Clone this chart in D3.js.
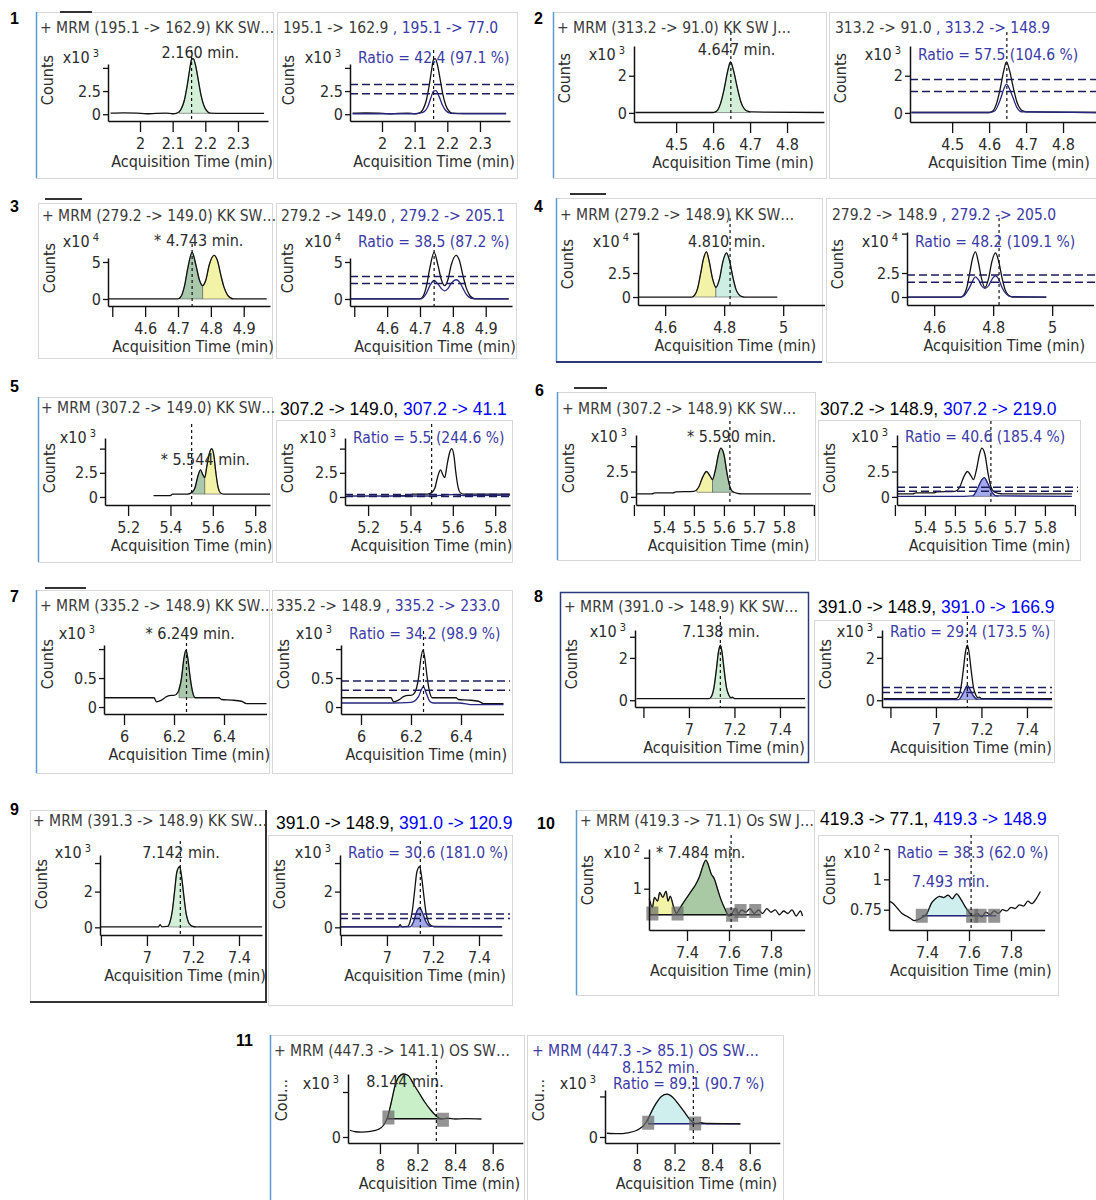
<!DOCTYPE html>
<html>
<head>
<meta charset="utf-8">
<script src="https://cdn.jsdelivr.net/npm/d3@7"></script>
<style>
body { margin: 0; background: #fff; }
text { white-space: pre; }
</style>
</head>
<body>
<svg id="fig" width="1096" height="1200"></svg>
<script>
// ---------- data ----------
var panelNames = ["1","2","3","4","5","6","7","8","9","10","11"];

var leftTitles = [
  "+ MRM (195.1 -> 162.9) KK SW\u2026",
  "+ MRM (313.2 -> 91.0) KK SW J\u2026",
  "+ MRM (279.2 -> 149.0) KK SW\u2026",
  "+ MRM (279.2 -> 148.9) KK SW\u2026",
  "+ MRM (307.2 -> 149.0) KK SW\u2026",
  "+ MRM (307.2 -> 148.9) KK SW\u2026",
  "+ MRM (335.2 -> 148.9) KK SW\u2026",
  "+ MRM (391.0 -> 148.9) KK SW\u2026",
  "+ MRM (391.3 -> 148.9) KK SW\u2026",
  "+ MRM (419.3 -> 71.1) Os SW J\u2026",
  "+ MRM (447.3 -> 141.1) OS SW\u2026"
];
var rightTitleBlack = ["195.1 -> 162.9", "313.2 -> 91.0", "279.2 -> 149.0", "279.2 -> 148.9",
  "307.2 -> 149.0,", "307.2 -> 148.9,", "335.2 -> 148.9", "391.0 -> 148.9,", "391.0 -> 148.9,",
  "419.3 -> 77.1,", ""];
var rightTitleBlue = [" , 195.1 -> 77.0", " , 313.2 -> 148.9", " , 279.2 -> 205.1", " , 279.2 -> 205.0",
  " 307.2 -> 41.1", " 307.2 -> 219.0", " , 335.2 -> 233.0", " 391.0 -> 166.9", " 391.0 -> 120.9",
  " 419.3 -> 148.9", "+ MRM (447.3 -> 85.1) OS SW\u2026"];

var rtLabels = ["2.160 min.", "4.647 min.", "* 4.743 min.", "4.810 min.", "* 5.544 min.", "* 5.590 min.",
  "* 6.249 min.", "7.138 min.", "7.142 min.", "* 7.484 min.", "8.144 min."];
var ratioLabels = ["Ratio = 42.4 (97.1 %)", "Ratio = 57.5 (104.6 %)", "Ratio = 38.5 (87.2 %)",
  "Ratio = 48.2 (109.1 %)", "Ratio = 5.5 (244.6 %)", "Ratio = 40.6 (185.4 %)", "Ratio = 34.2 (98.9 %)",
  "Ratio = 29.4 (173.5 %)", "Ratio = 30.6 (181.0 %)", "Ratio = 38.3 (62.0 %)", "Ratio = 89.1 (90.7 %)"];
var extraLabelsR = ["", "", "", "", "", "", "", "", "", "7.493 min.", "8.152 min."];
var exponents = [3, 3, 4, 4, 3, 3, 3, 3, 3, 2, 3];

var xDomains = [[1.902, 2.392], [4.386, 4.9], [4.487, 4.98], [4.508, 5.14], [5.091, 5.87],
  [5.307, 5.897], [5.92, 6.57], [6.763, 7.51], [6.796, 7.5], [7.219, 7.96], [7.83, 8.76]];
var xTicks = [[2, 2.1, 2.2, 2.3], [4.5, 4.6, 4.7, 4.8], [4.5, 4.6, 4.7, 4.8, 4.9], [4.6, 4.8, 5],
  [5.2, 5.4, 5.6, 5.8], [5.3, 5.4, 5.5, 5.6, 5.7, 5.8, 5.9], [6, 6.2, 6.4], [6.8, 7, 7.2, 7.4],
  [6.8, 7, 7.2, 7.4], [7.4, 7.6, 7.8], [8, 8.2, 8.4, 8.6]];
var xTickText = [["2", "2.1", "2.2", "2.3"], ["4.5", "4.6", "4.7", "4.8"], ["", "4.6", "4.7", "4.8", "4.9"],
  ["4.6", "4.8", "5"], ["5.2", "5.4", "5.6", "5.8"], ["", "5.4", "5.5", "5.6", "5.7", "5.8", ""],
  ["6", "6.2", "6.4"], ["", "7", "7.2", "7.4"], ["", "7", "7.2", "7.4"], ["7.4", "7.6", "7.8"],
  ["8", "8.2", "8.4", "8.6"]];

var yDomainsL = [[-0.73, 5.42], [-0.49, 3.6], [-0.95, 5.54], [-0.83, 6.77], [-0.83, 6.1], [-0.8, 6.1],
  [-0.12, 1.07], [-0.32, 3.32], [-0.43, 4.05], [0.667, 1.32], [-0.4, 4.2]];
var yDomainsR = [[-0.73, 5.42], [-0.49, 3.6], [-0.95, 5.54], [-0.83, 6.77], [-0.83, 6.1], [-0.8, 6.1],
  [-0.12, 1.07], [-0.32, 3.32], [-0.43, 4.05], [0.583, 1.25], [-0.4, 3.13]];
var yTicksL = [[0, 2.5, 5], [0, 2], [0, 5], [0, 2.5, 6.6], [0, 2.5, 5], [0, 2.5, 5], [0, 0.5, 1],
  [0, 2, 3], [0, 2, 3.6], [1, 1.25], [0, 3]];
var yTickTextL = [["0", "2.5", ""], ["0", "2"], ["0", "5"], ["0", "2.5", ""], ["0", "2.5", ""],
  ["0", "2.5", ""], ["0", "0.5", ""], ["0", "2", ""], ["0", "2", ""], ["1", ""], ["0", ""]];
var yTicksR = [[0, 2.5, 5], [0, 2], [0, 5], [0, 2.5, 6.6], [0, 2.5, 5], [0, 2.5, 5], [0, 0.5, 1],
  [0, 2, 3], [0, 2, 3.6], [0.75, 1, 1.25], [0, 2.7]];
var yTickTextR = [["0", "2.5", ""], ["0", "2"], ["0", "5"], ["0", "2.5", ""], ["0", "2.5", ""],
  ["0", "2.5", ""], ["0", "0.5", ""], ["0", "2", ""], ["0", "2", ""], ["0.75", "1", ""], ["0", ""]];

var dashTimes = [2.158, 4.648, 4.743, 4.82, 5.5, 5.62, 6.25, 7.138, 7.145, 7.61, 8.3];
var ratioBands = [[2.2, 3.2], [1.15, 1.8], [2.1, 3.05], [1.55, 2.3], [0.05, 0.25], [0.55, 0.95],
  [0.29, 0.45], [0.37, 0.6], [0.5, 0.75], null, null];

// quantifier traces (time, counts)
var quant1 = [[1.91,0.12],[1.95,0.15],[1.99,0.12],[2.02,0.05],[2.05,0.1],[2.08,0.12],[2.1,0.05],[2.115,0.15],
  [2.125,0.5],[2.135,1.4],[2.145,3.2],[2.152,4.8],[2.158,5.9],[2.163,6.0],[2.17,5.3],[2.178,3.8],[2.186,2.2],
  [2.195,1.0],[2.205,0.35],[2.215,0.12],[2.25,0.1],[2.3,0.1],[2.38,0.1]];
var quant2 = [[4.39,0.02],[4.5,0.02],[4.6,0.02],[4.61,0.1],[4.62,0.5],[4.63,1.3],[4.64,2.3],[4.647,2.75],
  [4.655,2.3],[4.665,1.4],[4.675,0.6],[4.685,0.2],[4.695,0.08],[4.705,0.05],[4.9,0.02]];
var quant3 = [[4.49,0],[4.6,0],[4.7,0],[4.71,0.4],[4.72,1.8],[4.73,4.2],[4.743,6.3],[4.755,4.5],[4.765,2.6],
  [4.775,1.8],[4.785,2.6],[4.795,4.6],[4.81,5.9],[4.82,5.2],[4.83,3.3],[4.84,1.6],[4.85,0.6],[4.86,0.15],
  [4.87,0],[4.97,0]];
var quant4 = [[4.51,0],[4.6,0],[4.69,0],[4.7,0.2],[4.71,0.9],[4.72,2.4],[4.73,4.0],[4.74,4.7],[4.75,3.6],
  [4.76,2.0],[4.772,1.0],[4.785,2.0],[4.795,3.6],[4.808,4.6],[4.818,3.8],[4.83,2.0],[4.84,0.8],[4.85,0.25],
  [4.86,0.05],[4.87,0],[4.98,0]];
var quant5 = [[5.32,0.15],[5.4,0.15],[5.41,0.3],[5.48,0.3],[5.5,0.45],[5.515,0.9],[5.53,2.2],[5.542,2.8],
  [5.553,2.3],[5.562,2.0],[5.572,3.2],[5.585,4.6],[5.595,5.0],[5.605,4.3],[5.615,2.4],[5.625,1.0],
  [5.635,0.45],[5.65,0.3],[5.75,0.3],[5.87,0.3]];
var quant6 = [[5.31,0.3],[5.36,0.3],[5.37,0.4],[5.43,0.4],[5.44,0.5],[5.5,0.55],[5.515,0.9],[5.53,2.0],
  [5.542,2.5],[5.553,2.1],[5.562,1.7],[5.572,2.7],[5.582,4.2],[5.59,4.8],[5.6,4.2],[5.61,2.4],[5.62,1.0],
  [5.63,0.5],[5.645,0.35],[5.66,0.3],[5.89,0.3]];
var quant7 = [[5.92,0.16],[6.0,0.16],[6.12,0.16],[6.13,0.09],[6.15,0.12],[6.17,0.18],[6.19,0.2],[6.2,0.2],
  [6.215,0.25],[6.23,0.5],[6.24,0.85],[6.248,0.98],[6.255,0.85],[6.265,0.5],[6.275,0.25],[6.285,0.16],
  [6.38,0.16],[6.39,0.13],[6.43,0.12],[6.47,0.1],[6.49,0.06],[6.57,0.06]];
var quant8 = [[6.77,0.08],[7.0,0.08],[7.09,0.08],[7.1,0.2],[7.11,0.6],[7.12,1.4],[7.13,2.3],[7.138,2.6],
  [7.145,2.3],[7.155,1.4],[7.165,0.6],[7.175,0.25],[7.185,0.12],[7.19,0.15],[7.2,0.08],[7.51,0.08]];
var quant9 = [[6.8,0.02],[7.0,0.02],[7.05,0.02],[7.057,0.15],[7.065,0.03],[7.09,0.05],[7.1,0.3],[7.11,0.9],
  [7.12,2.0],[7.13,3.1],[7.142,3.4],[7.15,2.9],[7.16,1.8],[7.17,0.8],[7.18,0.3],[7.19,0.12],[7.2,0.05],
  [7.21,0.02],[7.5,0.02]];
var quant10 = [[7.22,0.92],[7.235,0.85],[7.245,0.93],[7.26,0.9],[7.27,0.97],[7.285,0.93],[7.3,0.98],
  [7.31,0.9],[7.32,0.94],[7.335,0.86],[7.35,0.8],[7.365,0.84],[7.38,0.88],[7.4,0.93],[7.42,0.98],
  [7.44,1.03],[7.46,1.1],[7.475,1.18],[7.49,1.23],[7.5,1.2],[7.515,1.12],[7.53,1.08],[7.545,1.0],
  [7.56,0.92],[7.58,0.84],[7.6,0.78],[7.615,0.8],[7.63,0.84],[7.645,0.8],[7.66,0.83],[7.68,0.81],
  [7.7,0.84],[7.72,0.8],[7.74,0.83],[7.76,0.8],[7.78,0.84],[7.8,0.81],[7.82,0.83],[7.84,0.79],
  [7.86,0.82],[7.88,0.8],[7.9,0.83],[7.92,0.78],[7.94,0.82],[7.95,0.78]];
var quant11 = [[7.84,0.45],[7.87,0.35],[7.9,0.33],[7.95,0.38],[7.99,0.5],[8.02,0.8],[8.04,1.3],[8.06,2.3],
  [8.08,3.4],[8.1,4.0],[8.125,4.2],[8.15,4.1],[8.18,3.5],[8.21,2.9],[8.24,2.3],[8.27,1.8],[8.3,1.4],
  [8.33,1.2],[8.36,1.25],[8.4,1.2],[8.45,1.22],[8.54,1.2]];
// traces shown in the right-hand plots of panels 10 and 11
var quant10r = [[7.22,0.82],[7.24,0.8],[7.26,0.76],[7.28,0.72],[7.3,0.7],[7.32,0.68],[7.34,0.66],
  [7.36,0.67],[7.38,0.69],[7.4,0.72],[7.42,0.8],[7.44,0.84],[7.46,0.86],[7.48,0.85],[7.5,0.87],
  [7.52,0.84],[7.54,0.88],[7.56,0.84],[7.58,0.78],[7.6,0.73],[7.62,0.7],[7.64,0.72],[7.66,0.69],
  [7.68,0.73],[7.7,0.71],[7.72,0.74],[7.74,0.72],[7.76,0.75],[7.78,0.74],[7.8,0.77],[7.82,0.76],
  [7.84,0.79],[7.86,0.78],[7.88,0.82],[7.9,0.8],[7.92,0.84],[7.94,0.9]];
var quant11r = [[7.84,0.25],[7.9,0.22],[7.95,0.28],[8.0,0.45],[8.03,0.7],[8.05,1.0],[8.07,1.5],[8.1,2.2],
  [8.13,2.7],[8.16,2.85],[8.19,2.65],[8.22,2.2],[8.25,1.7],[8.28,1.2],[8.31,0.9],[8.34,0.95],[8.37,0.9],
  [8.55,0.88]];

// qualifier traces
var qual1 = [[1.91,0.05],[2.0,0.05],[2.1,0.05],[2.125,0.2],[2.14,0.8],[2.15,1.8],[2.158,2.5],[2.165,2.55],
  [2.175,1.9],[2.185,1.0],[2.195,0.4],[2.21,0.1],[2.25,0.05],[2.38,0.05]];
var qual2 = [[4.39,0.02],[4.6,0.02],[4.615,0.1],[4.63,0.7],[4.64,1.3],[4.647,1.55],[4.655,1.3],[4.665,0.8],
  [4.675,0.3],[4.69,0.05],[4.9,0.02]];
var qual3 = [[4.49,0],[4.7,0],[4.71,0.2],[4.72,0.8],[4.73,1.8],[4.743,2.5],[4.755,2.0],[4.765,1.4],
  [4.775,1.1],[4.785,1.4],[4.795,2.1],[4.81,2.6],[4.82,2.3],[4.83,1.5],[4.84,0.7],[4.85,0.25],[4.86,0.05],
  [4.97,0]];
var qual4 = [[4.51,0],[4.69,0],[4.7,0.1],[4.72,1.0],[4.74,2.1],[4.75,1.8],[4.76,1.2],[4.772,0.9],
  [4.785,1.2],[4.795,1.8],[4.808,2.2],[4.818,1.9],[4.83,1.0],[4.845,0.3],[4.86,0.05],[4.98,0]];
var qual5 = [[5.1,0.1],[5.5,0.1],[5.56,0.2],[5.6,0.25],[5.65,0.15],[5.87,0.2]];
var qual6 = [[5.31,0.05],[5.5,0.05],[5.56,0.1],[5.575,0.8],[5.59,1.7],[5.598,1.9],[5.61,1.3],[5.625,0.4],
  [5.64,0.1],[5.89,0.05]];
var qual7 = [[5.92,0.07],[6.12,0.07],[6.2,0.08],[6.23,0.18],[6.245,0.33],[6.25,0.35],[6.26,0.25],
  [6.275,0.1],[6.29,0.07],[6.39,0.07],[6.45,0.04],[6.57,0.04]];
var qual8 = [[6.77,0.03],[7.1,0.03],[7.11,0.15],[7.125,0.45],[7.138,0.7],[7.15,0.5],[7.165,0.2],
  [7.18,0.05],[7.51,0.03]];
var qual9 = [[6.8,0.02],[7.1,0.02],[7.115,0.3],[7.13,0.9],[7.142,1.1],[7.155,0.8],[7.17,0.3],[7.19,0.05],
  [7.5,0.02]];

var quantTraces = [quant1, quant2, quant3, quant4, quant5, quant6, quant7, quant8, quant9, quant10, quant11];
var rightTraces = [quant1, quant2, quant3, quant4, quant5, quant6, quant7, quant8, quant9, quant10r, quant11r];
var qualTraces = [qual1, qual2, qual3, qual4, qual5, qual6, qual7, qual8, qual9, null, null];

// integrated peak regions [start, end, role]
var fillsL = [[[2.12, 2.215, "target"]], [[4.605, 4.7, "target"]],
  [[4.705, 4.775, "target"], [4.775, 4.865, "neighbor"]],
  [[4.695, 4.772, "neighbor"], [4.772, 4.86, "target"]],
  [[5.505, 5.562, "target"], [5.562, 5.64, "neighbor"]],
  [[5.51, 5.562, "neighbor"], [5.562, 5.635, "target"]],
  [[6.22, 6.285, "target"]], [[7.095, 7.19, "target"]], [[7.09, 7.21, "target"]],
  [[7.225, 7.35, "neighbor"], [7.35, 7.6, "target"]], [[8.045, 8.31, "target"]]];
var fillBaseL = [0.1, 0.02, 0, 0, 0.3, 0.45, 0.16, 0.08, 0.02, 0.79, 1.22];
var fillsR = [[], [], [], [], [], [[5.56, 5.645, "qual"]], [], [[7.105, 7.18, "qual"]],
  [[7.11, 7.185, "qual"]], [[7.38, 7.6, "main"]], [[8.06, 8.3, "main"]]];
var fillBaseR = [0, 0, 0, 0, 0, 0.05, 0.03, 0.03, 0.02, 0.7, 0.88];
var baseLinesL = [null, null, null, null, null, null, null, null, null, [7.22, 7.75, 0.79], [8.04, 8.33, 1.22]];
var baseLinesR = [null, null, null, null, null, null, null, null, null, [7.375, 7.73, 0.7], [8.06, 8.55, 0.88]];
var markersL = [[], [], [], [], [], [], [], [], [],
  [[7.235, 0.8], [7.355, 0.8], [7.615, 0.79], [7.655, 0.82], [7.725, 0.82]], [[8.045, 1.3], [8.335, 1.15]]];
var markersR = [[], [], [], [], [], [], [], [], [],
  [[7.375, 0.7], [7.615, 0.7], [7.655, 0.7], [7.72, 0.7]], [[8.06, 0.95], [8.31, 0.9]]];

// ---------- layout (pixels) ----------
var numPos = [[10, 24], [534, 24], [10, 212], [534, 212], [10, 392], [535, 396], [10, 602], [534, 602],
  [10, 815], [537, 829], [236, 1046]];
var boxL = [[36, 12, 237, 166], [553, 12, 273, 166], [38, 203, 234, 155], [556, 198, 266, 164],
  [38, 397, 234, 165], [557, 392, 258, 168], [36, 590, 233, 183], [560, 592, 248, 170],
  [30, 810, 236, 192], [576, 810, 238, 185], [270, 1035, 254, 170]];
var boxR = [[277, 12, 240, 166], [829, 12, 270, 166], [276, 203, 240, 155], [826, 198, 272, 164],
  [276, 420, 236, 142], [818, 420, 262, 140], [272, 590, 240, 183], [814, 620, 240, 142],
  [268, 835, 244, 170], [818, 835, 240, 160], [527, 1035, 256, 170]];
var plotL = [[108, 268, 64, 121], [634, 824, 46, 122], [108, 270, 258, 306], [638, 824.5, 232, 305],
  [105, 270, 438, 505], [636, 813, 435, 505], [104, 266.5, 645, 714], [635, 805, 630, 707],
  [100, 262, 855, 935], [649, 804.6, 849, 930], [348, 522.8, 1074, 1143]];
var plotR = [[350, 510, 64, 121], [910, 1100, 46, 122], [350, 512, 258, 306], [907, 1093.5, 232, 305],
  [345, 510, 438, 505], [897, 1074, 435, 505], [341, 503.5, 645, 714], [882, 1052, 630, 707],
  [340, 502, 855, 935], [889, 1044.6, 849, 930], [605, 779.8, 1090, 1143]];
var titleY = [33, 33, 221, 220, 413, 414, 611, 612, 826, 826, 1056];
var titleXL = [40, 557, 42, 560, 41, 562, 40, 564, 33, 580, 274];
var titleXR = [283, 835, 281, 832, 280, 820, 276, 818, 276, 820, 532];
var titleOut = [false, false, false, false, true, true, false, true, true, true, false];
var outTitleY = [0, 0, 0, 0, 415, 415, 0, 613, 829, 825, 0];
var expY = [63, 60, 247, 247, 443, 442, 639, 637, 858, 858, 1089];
var countsY = [80, 78, 268, 264, 468, 468, 664, 664, 884, 880, 1100];
var rtDx = [-30, -33, -38, -42, -31, -43, -41, -38, -38, -75, -70];
var rtY = [58, 55, 246, 247, 465, 442, 639, 637, 858, 858, 1087];
var extraPos = [null, null, null, null, null, null, null, null, null, [912, 887], [622, 1073]];
var tabMarks = [[60, 12, 92], [45, 199, 82], [570, 194, 606], [574, 388, 607], [45, 588, 86]];

// ---------- styles ----------
var FONT = "'Liberation Sans Narrow','Arial Narrow','DejaVu Sans Condensed',sans-serif";
var ARIAL = "'Liberation Sans',Arial,sans-serif";
var TXT = "#2b2b2b";
var BLUE_TXT = "#3a3aa6";
var QUAL = "#26267e";
var targetColors = ["#d3efd7", "#d3efd7", "#a9c8ac", "#cdeee2", "#a9c8ac", "#a9c8ac", "#a9c8ac",
  "#d3efd7", "#d3efd7", "#a9c8a4", "#c9efc9"];
var NEIGHBOR = "#f3f3a8";
var qualFill = ["", "", "", "", "", "#a4a9ee", "", "#a4a9ee", "#a4a9ee", "#cfeeee", "#cfeeee"];
var leftAccent = ["blue", "blue", "", "navyB", "blue", "blue", "blue", "navy", "darkBR", "blue", "blue"];

var svg = d3.select("#fig");

function valueAt(pts, t) {
  for (var k = 0; k < pts.length - 1; k++) {
    if (pts[k][0] <= t && pts[k + 1][0] >= t) {
      var f = (t - pts[k][0]) / (pts[k + 1][0] - pts[k][0]);
      return pts[k][1] + f * (pts[k + 1][1] - pts[k][1]);
    }
  }
  return pts[pts.length - 1][1];
}

function slice(pts, t0, t1) {
  var out = [[t0, valueAt(pts, t0)]];
  pts.forEach(function(p) { if (p[0] > t0 && p[0] < t1) out.push(p); });
  out.push([t1, valueAt(pts, t1)]);
  return out;
}

function drawSub(i, side) {
  var isL = side == "L";
  var box = isL ? boxL[i] : boxR[i];
  var pr = isL ? plotL[i] : plotR[i];
  var g = svg.append("g");

  g.append("rect")
    .attr("x", box[0] + 0.5).attr("y", box[1] + 0.5)
    .attr("width", box[2]).attr("height", box[3])
    .attr("fill", "#fff").attr("stroke", "#d8d8d8");

  var x = d3.scaleLinear().domain(xDomains[i]).range([pr[0], pr[1]]);
  var y = d3.scaleLinear().domain(isL ? yDomainsL[i] : yDomainsR[i]).range([pr[3], pr[2]]);
  var line = d3.line().x(function(d) { return x(d[0]); }).y(function(d) { return y(d[1]); })
    .curve(d3.curveMonotoneX);

  // shaded peaks
  var fills = isL ? fillsL[i] : fillsR[i];
  fills.forEach(function(f) {
    var src = isL ? quantTraces[i] : (f[2] == "qual" ? qualTraces[i] : rightTraces[i]);
    var base = isL ? fillBaseL[i] : fillBaseR[i];
    var col = f[2] == "target" ? targetColors[i] : (f[2] == "neighbor" ? NEIGHBOR : qualFill[i]);
    var area = d3.area().x(function(d) { return x(d[0]); })
      .y0(y(base)).y1(function(d) { return y(d[1]); }).curve(d3.curveMonotoneX);
    g.append("path").attr("d", area(slice(src, f[0], f[1])))
      .attr("fill", col).attr("stroke", "#555").attr("stroke-width", 0.6);
  });

  // integration baseline
  var bl = isL ? baseLinesL[i] : baseLinesR[i];
  if (bl) {
    g.append("line").attr("x1", x(bl[0])).attr("x2", x(bl[1]))
      .attr("y1", y(bl[2])).attr("y2", y(bl[2]))
      .attr("stroke", isL ? "#111" : QUAL).attr("stroke-width", 1.4);
  }

  // traces
  g.append("path").attr("d", line(isL ? quantTraces[i] : rightTraces[i]))
    .attr("fill", "none").attr("stroke", "#111").attr("stroke-width", 1.3);
  if (!isL && qualTraces[i]) {
    g.append("path").attr("d", line(qualTraces[i]))
      .attr("fill", "none").attr("stroke", QUAL).attr("stroke-width", 1.3);
  }

  // ratio tolerance bands
  if (!isL && ratioBands[i]) {
    ratioBands[i].forEach(function(v) {
      g.append("line").attr("x1", pr[0]).attr("x2", box[0] + box[2] - 2)
        .attr("y1", y(v)).attr("y2", y(v))
        .attr("stroke", "#1c1c5c").attr("stroke-width", 1.5).attr("stroke-dasharray", "8,4");
    });
  }

  // integration markers
  (isL ? markersL[i] : markersR[i]).forEach(function(m) {
    g.append("rect").attr("x", x(m[0]) - 6).attr("y", y(m[1]) - 7)
      .attr("width", 12).attr("height", 14)
      .attr("fill", "#666").attr("opacity", 0.7);
  });

  // axes
  var yt = isL ? yTicksL[i] : yTicksR[i];
  var ytt = isL ? yTickTextL[i] : yTickTextR[i];
  var ax = g.append("g").attr("transform", "translate(0," + pr[3] + ")")
    .call(d3.axisBottom(x).tickValues(xTicks[i])
      .tickFormat(function(d, j) { return xTickText[i][j]; })
      .tickSize(11).tickPadding(6).tickSizeOuter(0));
  var ay = g.append("g").attr("transform", "translate(" + pr[0] + ",0)")
    .call(d3.axisLeft(y).tickValues(yt)
      .tickFormat(function(d, j) { return ytt[j]; })
      .tickSize(5).tickPadding(2).tickSizeOuter(0));
  [ax, ay].forEach(function(a) {
    a.attr("font-family", FONT).attr("font-size", 16).attr("color", "#111");
    a.select(".domain").attr("stroke-width", 1.5);
    a.selectAll(".tick line").attr("stroke-width", 1.3);
    a.selectAll(".tick text").attr("fill", TXT);
  });

  // retention time marker
  var dx = x(dashTimes[i]);
  g.append("line").attr("x1", dx).attr("x2", dx)
    .attr("y1", pr[2] - 14).attr("y2", pr[3])
    .attr("stroke", "#111").attr("stroke-width", 1.2).attr("stroke-dasharray", "3,3");

  // texts
  g.append("text").attr("transform", "translate(" + (box[0] + 17) + "," + countsY[i] + ") rotate(-90)")
    .attr("text-anchor", "middle").attr("font-family", FONT).attr("font-size", 16).attr("fill", TXT)
    .text(i == 10 ? "Cou\u2026" : "Counts");
  var ex = g.append("text").attr("x", pr[0] - 9).attr("y", expY[i]).attr("text-anchor", "end")
    .attr("font-family", FONT).attr("font-size", 16).attr("fill", TXT);
  ex.append("tspan").text("x10");
  ex.append("tspan").attr("dy", -6).attr("font-size", 11).text(" " + exponents[i]);
  g.append("text").attr("x", (pr[0] + pr[1]) / 2 + 4).attr("y", pr[3] + 46)
    .attr("text-anchor", "middle").attr("font-family", FONT).attr("font-size", 16).attr("fill", TXT)
    .text("Acquisition Time (min)");

  if (isL) {
    g.append("text").attr("x", titleXL[i]).attr("y", titleY[i])
      .attr("font-family", FONT).attr("font-size", 15.5).attr("fill", "#3a3a3a").text(leftTitles[i]);
    g.append("text").attr("x", dx + rtDx[i]).attr("y", rtY[i])
      .attr("font-family", FONT).attr("font-size", 16).attr("fill", TXT).text(rtLabels[i]);
  } else {
    var t;
    if (titleOut[i]) {
      t = g.append("text").attr("x", titleXR[i]).attr("y", outTitleY[i])
        .attr("font-family", ARIAL).attr("font-size", 17.5);
      t.append("tspan").attr("fill", "#000").text(rightTitleBlack[i]);
      t.append("tspan").attr("fill", "#0000ff").text(rightTitleBlue[i]);
    } else {
      t = g.append("text").attr("x", titleXR[i]).attr("y", titleY[i])
        .attr("font-family", FONT).attr("font-size", 15.5);
      t.append("tspan").attr("fill", "#3a3a3a").text(rightTitleBlack[i]);
      t.append("tspan").attr("fill", BLUE_TXT).text(rightTitleBlue[i]);
    }
    if (extraPos[i]) {
      g.append("text").attr("x", extraPos[i][0]).attr("y", extraPos[i][1])
        .attr("font-family", FONT).attr("font-size", 16).attr("fill", BLUE_TXT).text(extraLabelsR[i]);
    }
    g.append("text").attr("x", pr[0] + 8).attr("y", expY[i])
      .attr("font-family", FONT).attr("font-size", 15.5).attr("fill", BLUE_TXT).text(ratioLabels[i]);
  }
  return g;
}

function accent(i) {
  var b = boxL[i];
  var kind = leftAccent[i];
  if (kind == "blue" || kind == "navyB") {
    svg.append("line").attr("x1", b[0] + 0.5).attr("x2", b[0] + 0.5).attr("y1", b[1]).attr("y2", b[1] + b[3])
      .attr("stroke", "#5b9bd5").attr("stroke-width", 1.5);
  }
  if (kind == "navy") {
    svg.append("rect").attr("x", b[0] + 0.5).attr("y", b[1] + 0.5).attr("width", b[2]).attr("height", b[3])
      .attr("fill", "none").attr("stroke", "#2a3a7a").attr("stroke-width", 1.5);
  } else if (kind == "navyB") {
    svg.append("line").attr("x1", b[0]).attr("x2", b[0] + b[2]).attr("y1", b[1] + b[3]).attr("y2", b[1] + b[3])
      .attr("stroke", "#2a3a7a").attr("stroke-width", 2);
  } else if (kind == "darkBR") {
    svg.append("path")
      .attr("d", "M" + b[0] + "," + (b[1] + b[3]) + "H" + (b[0] + b[2]) + "V" + b[1])
      .attr("fill", "none").attr("stroke", "#333").attr("stroke-width", 2);
  }
}

for (var i = 0; i < panelNames.length; i++) {
  drawSub(i, "L");
  drawSub(i, "R");
  accent(i);
  svg.append("text").attr("x", numPos[i][0]).attr("y", numPos[i][1])
    .attr("font-family", ARIAL).attr("font-weight", "bold").attr("font-size", 16).attr("fill", "#000")
    .text(panelNames[i]);
}

tabMarks.forEach(function(m) {
  svg.append("line").attr("x1", m[0]).attr("x2", m[2]).attr("y1", m[1]).attr("y2", m[1])
    .attr("stroke", "#333").attr("stroke-width", 2);
});
</script>
</body>
</html>
